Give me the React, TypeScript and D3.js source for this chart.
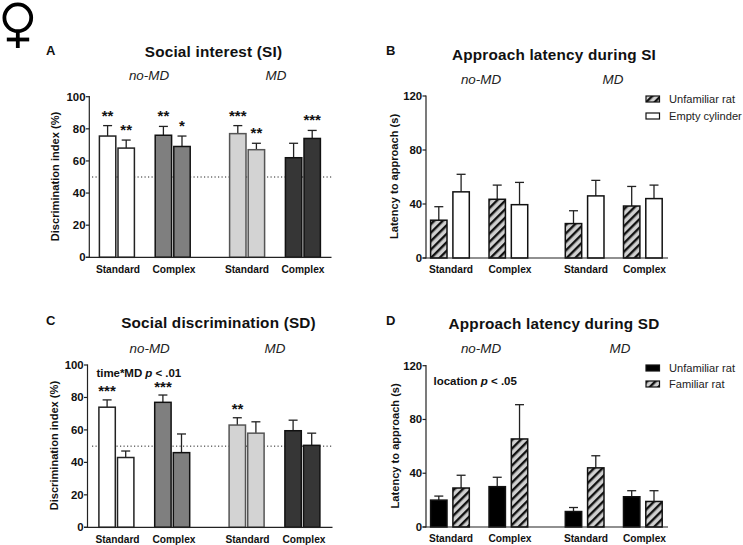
import React from "react";
import * as d3 from "d3";

const groupLabels = ["Standard", "Complex", "Standard", "Complex"];
const siMeans = [75.5, 68, 76, 69, 77, 67, 62, 74];
const siUppers = [82, 73, 81.5, 75.5, 82, 71, 71, 79];
const sdMeans = [74, 43, 77, 46, 63, 58, 59.5, 50.5];
const sdUppers = [78.5, 47, 81.5, 57.5, 67.5, 65, 66, 58];
const latSiMeans = [28, 49, 43.5, 39.5, 25.5, 46, 38.5, 44];
const latSiUppers = [38, 62, 54, 56, 35, 57.5, 53, 54];
const latSdMeans = [20, 29, 30, 65.5, 11.5, 44, 22.5, 19];
const latSdUppers = [23, 38.5, 37, 91, 14.5, 53, 27, 27];
const siStars = ["**", "**", "**", "*", "***", "**", "", "***"];
const sdStars = ["***", "", "***", "", "**", "", "", ""];
const indexTicks = [0, 20, 40, 60, 80, 100];
const latencyTicks = [0, 40, 80, 120];
const indexFills = ["#ffffff", "#ffffff", "#7f7f7f", "#7f7f7f", "#d3d3d3", "#d3d3d3", "#363636", "#363636"];
const indexStrokes = ["#222", "#222", "#111", "#111", "#555", "#555", "#111", "#111"];
const hatchThenWhite = ["url(#hatch)", "#fff", "url(#hatch)", "#fff", "url(#hatch)", "#fff", "url(#hatch)", "#fff"];
const blackThenHatch = ["#000", "url(#hatch)", "#000", "url(#hatch)", "#000", "url(#hatch)", "#000", "url(#hatch)"];

const FONT = "'Liberation Sans', Arial, sans-serif";
const indexSlots = [0, 1, 3, 4, 7, 8, 10, 11];
const latencySlots = [0, 1, 2.62, 3.62, 6.04, 7.04, 8.65, 9.65];

type PanelProps = {
  letter: string; letterX: number; letterY: number;
  title: string; titleX: number; titleY: number;
  noMdX: number; mdX: number; headY: number;
  axisX: number; axisEnd: number; yTop: number; yZero: number; yMax: number;
  ticks: number[]; yTitle: string; yTitleX: number;
  means: number[]; uppers: number[]; fills: string[]; strokes?: string[];
  slots: number[]; firstBar: number; slotW: number; barW: number;
  labelXs: number[]; stars?: string[]; refLine?: number; refStart?: number;
};

function Panel(p: PanelProps) {
  const y = d3.scaleLinear().domain([0, p.yMax]).range([p.yZero, p.yTop]);
  const x = d3.scaleLinear().domain([0, 1]).range([p.firstBar, p.firstBar + p.slotW]);
  return (
    <g fontFamily={FONT} fill="#111">
      <text x={p.letterX} y={p.letterY} fontSize={13} fontWeight={700}>{p.letter}</text>
      <text x={p.titleX} y={p.titleY} fontSize={15.3} fontWeight={700} textAnchor="middle" letterSpacing={0.2}>{p.title}</text>
      <text x={p.noMdX} y={p.headY} fontSize={13.4} fontStyle="italic" textAnchor="middle" fill="#222">no-MD</text>
      <text x={p.mdX} y={p.headY} fontSize={13.4} fontStyle="italic" textAnchor="middle" fill="#222">MD</text>
      {p.refLine !== undefined && (
        <line x1={p.refStart} x2={p.axisEnd} y1={y(p.refLine)} y2={y(p.refLine)} stroke="#222" strokeWidth={1} strokeDasharray="1.2 2.3" />
      )}
      {p.means.map((m, i) => {
        const bx = x(p.slots[i]);
        const cx = bx + p.barW / 2;
        const stroke = p.strokes ? p.strokes[i] : "#111";
        return (
          <g key={i}>
            <line x1={cx} x2={cx} y1={y(m)} y2={y(p.uppers[i])} stroke="#222" strokeWidth={1.3} />
            <line x1={cx - 4.5} x2={cx + 4.5} y1={y(p.uppers[i])} y2={y(p.uppers[i])} stroke="#222" strokeWidth={1.3} />
            <rect x={bx} y={y(m)} width={p.barW} height={p.yZero - y(m)} fill={p.fills[i]} stroke={stroke} strokeWidth={1.5} />
            {p.stars && p.stars[i] && (
              <text x={cx} y={y(p.uppers[i]) - 5} fontSize={15} fontWeight={700} textAnchor="middle">{p.stars[i]}</text>
            )}
          </g>
        );
      })}
      <line x1={p.axisX} x2={p.axisX} y1={p.yTop - 0.6} y2={p.yZero + 0.6} stroke="#222" strokeWidth={1.2} />
      <line x1={p.axisX - 3.5} x2={p.axisEnd} y1={p.yZero} y2={p.yZero} stroke="#222" strokeWidth={1.2} />
      {p.ticks.map((t) => (
        <g key={t}>
          <line x1={p.axisX - 3.5} x2={p.axisX} y1={y(t)} y2={y(t)} stroke="#222" strokeWidth={1.2} />
          <text x={p.axisX - 3.8} y={y(t) + 4} fontSize={11.4} fontWeight={700} textAnchor="end">{t}</text>
        </g>
      ))}
      <text transform={`translate(${p.yTitleX},${(p.yTop + p.yZero) / 2 - 0.5}) rotate(-90)`} fontSize={11.1} fontWeight={700} textAnchor="middle">{p.yTitle}</text>
      {groupLabels.map((g, i) => (
        <text key={i} x={p.labelXs[i]} y={p.yZero + 15.2} fontSize={10.2} fontWeight={700} textAnchor="middle">{g}</text>
      ))}
    </g>
  );
}

function LegendRow({ x, y, fill, label }: { x: number; y: number; fill: string; label: string }) {
  return (
    <g fontFamily={FONT}>
      <rect x={x} y={y - 3} width={13.5} height={6} fill={fill} stroke="#111" strokeWidth={1.2} />
      <text x={x + 23} y={y + 4} fontSize={11.1} fill="#222">{label}</text>
    </g>
  );
}

export default function App() {
  return (
    <svg width={743} height={545} style={{ position: "absolute", left: 0, top: 0, background: "#fff" }}>
      <defs>
        <pattern id="hatch" width={6} height={6} patternUnits="userSpaceOnUse" patternTransform="rotate(45)">
          <rect width={6} height={6} fill="#d0d0d0" />
          <rect width={2.4} height={6} fill="#111" />
        </pattern>
      </defs>
      <g fill="none" stroke="#000" strokeWidth={3.8}>
        <circle cx={17.8} cy={17.8} r={13.4} />
        <line x1={17.8} x2={17.8} y1={31} y2={48} />
        <line x1={6.8} x2={29.2} y1={39.5} y2={39.5} />
      </g>
      <Panel letter="A" letterX={46} letterY={55} title="Social interest (SI)" titleX={213.5} titleY={57} noMdX={149} mdX={276} headY={80}
        axisX={89.3} axisEnd={331.5} yTop={96.7} yZero={257.3} yMax={100} ticks={indexTicks} yTitle="Discrimination index (%)" yTitleX={59}
        means={siMeans} uppers={siUppers} fills={indexFills} strokes={indexStrokes} slots={indexSlots} firstBar={99.4} slotW={18.6} barW={16.4}
        labelXs={[118, 174, 247, 303]} stars={siStars} refLine={50} refStart={92} />
      <Panel letter="B" letterX={386} letterY={55} title="Approach latency during SI" titleX={554} titleY={59.5} noMdX={481} mdX={613} headY={84}
        axisX={426} axisEnd={668} yTop={96} yZero={258} yMax={120} ticks={latencyTicks} yTitle="Latency to approach (s)" yTitleX={398}
        means={latSiMeans} uppers={latSiUppers} fills={hatchThenWhite} slots={latencySlots} firstBar={430.6} slotW={22.3} barW={16.4}
        labelXs={[451, 510, 586, 644.5]} />
      <Panel letter="C" letterX={46} letterY={325} title="Social discrimination (SD)" titleX={218.5} titleY={327.5} noMdX={149.7} mdX={275} headY={353}
        axisX={87.5} axisEnd={332.5} yTop={365} yZero={527.3} yMax={100} ticks={indexTicks} yTitle="Discrimination index (%)" yTitleX={57.5}
        means={sdMeans} uppers={sdUppers} fills={indexFills} strokes={indexStrokes} slots={indexSlots} firstBar={98.9} slotW={18.6} barW={16.4}
        labelXs={[117.5, 174, 247.5, 304]} refLine={50} refStart={92} />
      <Panel letter="D" letterX={386} letterY={325} title="Approach latency during SD" titleX={554} titleY={329} noMdX={481} mdX={620} headY={353}
        axisX={426} axisEnd={668} yTop={365.7} yZero={527} yMax={120} ticks={latencyTicks} yTitle="Latency to approach (s)" yTitleX={399}
        means={latSdMeans} uppers={latSdUppers} fills={blackThenHatch} slots={latencySlots} firstBar={430.6} slotW={22.3} barW={16.4}
        labelXs={[451, 510, 586, 644.5]} />
      <g fontFamily={FONT} fontWeight={700} fontSize={11.5} fill="#111">
        <text x={96.5} y={377} letterSpacing={-0.05}>time*MD <tspan fontStyle="italic">p</tspan> &lt; .01</text>
        <text x={433.5} y={384.5}>location <tspan fontStyle="italic">p</tspan> &lt; .05</text>
      </g>
      <g fontFamily={FONT} fontWeight={700} fontSize={15} fill="#111" textAnchor="middle">
        {sdStars.map((s, i) => s && (
          <text key={i} x={[107, 0, 163, 0, 237.5][i]} y={[396, 0, 392, 0, 413.7][i]}>{s}</text>
        ))}
      </g>
      <LegendRow x={646} y={99} fill="url(#hatch)" label="Unfamiliar rat" />
      <LegendRow x={646} y={116} fill="#fff" label="Empty cylinder" />
      <LegendRow x={646} y={368} fill="#000" label="Unfamiliar rat" />
      <LegendRow x={646} y={384} fill="url(#hatch)" label="Familiar rat" />
    </svg>
  );
}
